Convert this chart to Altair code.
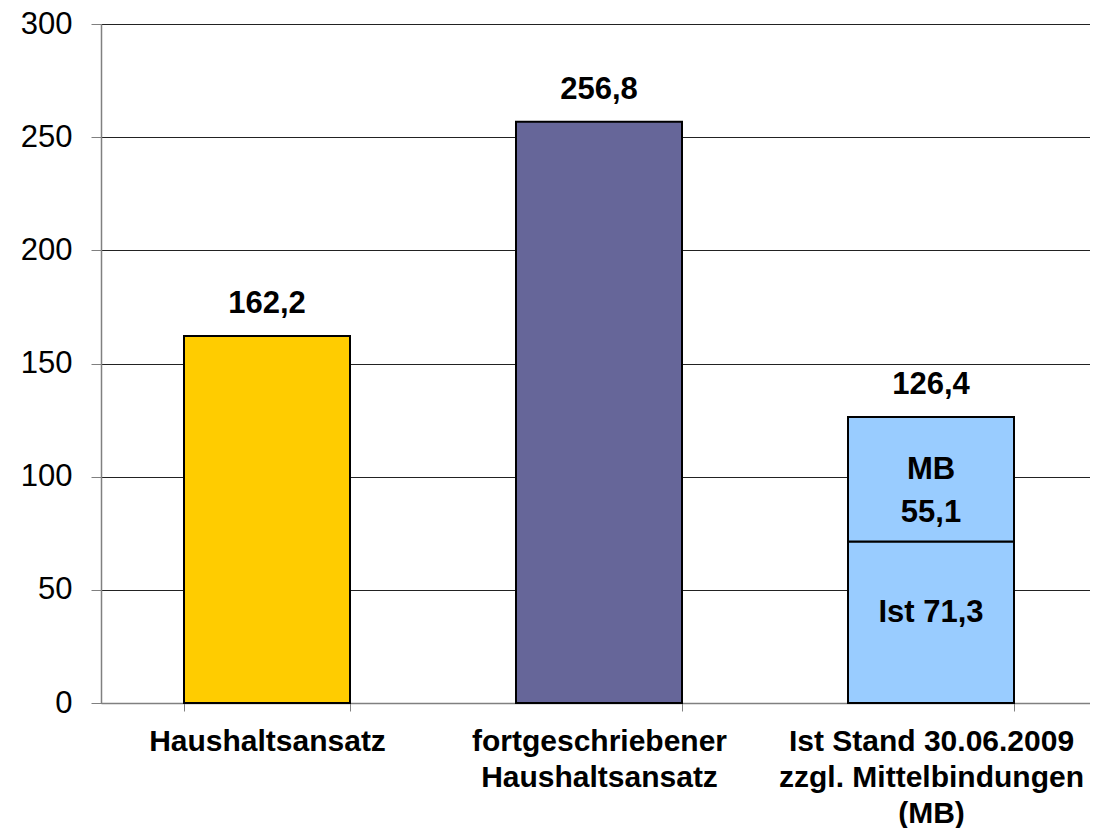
import altair as alt
import pandas as pd

categories = ["Haushaltsansatz", "fortgeschriebener|Haushaltsansatz",
              "Ist Stand 30.06.2009|zzgl. Mittelbindungen|(MB)"]
segment_cat = [categories[0], categories[1], categories[2], categories[2]]
segment_name = ["Haushaltsansatz", "fortgeschrieben", "Ist", "MB"]
segment_order = [0, 0, 0, 1]
segment_value = [162.2, 256.8, 71.3, 55.1]
segment_color = ["#FFCC00", "#666699", "#99CCFF", "#99CCFF"]

total_cat = categories
total_value = [162.2, 256.8, 126.4]
total_label = ["162,2", "256,8", "126,4"]

inner_cat = [categories[2], categories[2]]
inner_y = [35.65, 98.85]
inner_label = ["Ist 71,3", "MB|55,1"]
inner_dy = [-5, -19]

seg_df = pd.DataFrame({"cat": segment_cat, "seg": segment_name,
                       "ord": segment_order, "val": segment_value})
tot_df = pd.DataFrame({"cat": total_cat, "val": total_value, "lab": total_label})
inn_df = pd.DataFrame({"cat": inner_cat, "y": inner_y, "lab": inner_label, "dy": inner_dy})

FONT = "Liberation Sans"
xscale = alt.Scale(domain=categories, range=[0, 996], paddingInner=0.5, paddingOuter=0.25)

x_enc = alt.X("cat:N", sort=categories, title=None, scale=xscale,
              axis=alt.Axis(labelExpr="split(datum.label, '|')", labelAngle=0,
                            labelFont=FONT, labelFontSize=30, labelFontWeight="bold",
                            labelColor="black", labelPadding=39, labelLineHeight=36,
                            labelBaseline="alphabetic", labelLimit=0,
                            tickBand="extent", tickColor="#808080", tickSize=8,
                            domainColor="#808080", domainWidth=1.5, grid=False))

bars = alt.Chart(seg_df).mark_bar(stroke="black", strokeWidth=2).encode(
    x=x_enc,
    y=alt.Y("val:Q", stack="zero", title=None,
            scale=alt.Scale(domain=[0, 300], nice=False),
            axis=alt.Axis(values=[0, 50, 100, 150, 200, 250, 300],
                          labelFont=FONT, labelFontSize=31, labelColor="black",
                          labelPadding=19, tickSize=10, tickColor="#808080",
                          domainColor="#808080", domainWidth=1.5,
                          gridColor="#222222", gridWidth=1)),
    color=alt.Color("seg:N", scale=alt.Scale(domain=segment_name, range=segment_color),
                    legend=None),
    order=alt.Order("ord:Q"),
)

totals = alt.Chart(tot_df).mark_text(font=FONT, fontSize=31, fontWeight="bold",
                                     color="black", dy=-23, baseline="alphabetic").encode(
    x=alt.X("cat:N", sort=categories, scale=xscale),
    y=alt.Y("val:Q"),
    text="lab:N",
)

inner = alt.Chart(inn_df).mark_text(font=FONT, fontSize=31, fontWeight="bold",
                                    color="black", baseline="alphabetic", lineHeight=43,
                                    lineBreak="|").encode(
    x=alt.X("cat:N", sort=categories, scale=xscale),
    y=alt.Y("y:Q"),
    yOffset=alt.YOffset("dy:Q", scale=None),
    text="lab:N",
)

chart = alt.layer(bars, totals, inner).properties(
    width=989, height=679,
    padding={"left": 93, "top": 16, "right": 0, "bottom": 125},
    autosize=alt.AutoSizeParams(type="none"),
).configure_view(stroke=None).configure(background="white")

chart.save("out.html", embed_options={"renderer": "svg", "actions": False})
